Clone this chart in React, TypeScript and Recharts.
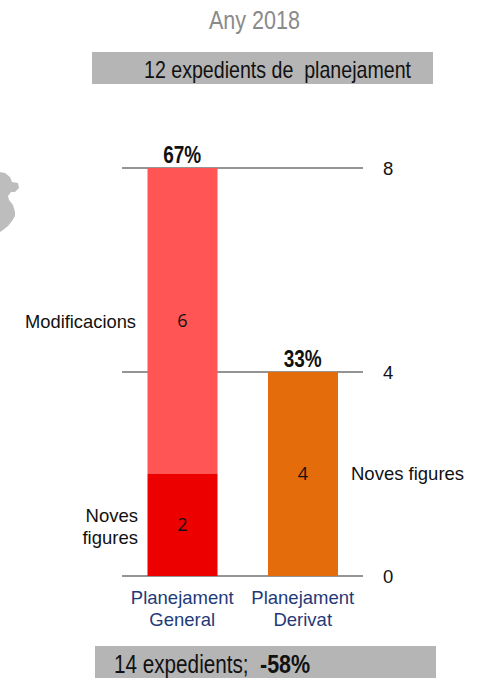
import React from "react";
import { ComposedChart, Bar, Line, XAxis, YAxis, CartesianGrid, Cell, LabelList } from "recharts";

const categories = ["Planejament General", "Planejament Derivat"];
const novesFigures = [2, 4];
const modificacions: (number | null)[] = [6, null];
const totals = [8, 4];
const percentatges = ["67%", "33%"];
const novesColors = ["#ec0000", "#e56c0a"];
const yTicks = [0, 4, 8];

const data = categories.map((name, i) => ({
  name,
  noves: novesFigures[i],
  mods: modificacions[i],
  total: totals[i],
  pct: percentatges[i],
}));

const SANS = "'Liberation Sans', Arial, sans-serif";
const VALUE_FONT = "'Open Sans', sans-serif";

const XTick = (props: any) => {
  const { x, y, payload } = props;
  const words = String(payload.value).split(" ");
  return (
    <g>
      {words.map((w, i) => (
        <text key={w} x={x} y={y + 20 + i * 22} textAnchor="middle" fontFamily={SANS} fontSize={18.5} fill="#1f3a78">
          {w}
        </text>
      ))}
    </g>
  );
};

const PctLabel = (props: any) => {
  const { x, y, value } = props;
  return (
    <text x={x} y={y - 5} textAnchor="middle" fontFamily={SANS} fontSize={23} fontWeight={700} fill="#111"
      textLength={38} lengthAdjust="spacingAndGlyphs">
      {value}
    </text>
  );
};

const T = ({ x, y, w, size, fill = "#111", anchor = "start", weight, children }: any) => (
  <text x={x} y={y} fontFamily={SANS} fontSize={size} fontWeight={weight} fill={fill} textAnchor={anchor} textLength={w} lengthAdjust="spacingAndGlyphs" xmlSpace="preserve">
    {children}
  </text>
);

const Squeezed = ({ x, y, sx, size, weight, children }: any) => (
  <text transform={`translate(${x} ${y}) scale(${sx} 1)`} fontFamily={SANS} fontSize={size} fontWeight={weight} fill="#111">
    {children}
  </text>
);

export default function App() {
  return (
    <div style={{ position: "absolute", left: 0, top: 0, width: 480, height: 678, overflow: "hidden", background: "#fff" }}>
      <div style={{ position: "absolute", left: 0, top: 0 }}>
        <ComposedChart width={480} height={678} data={data} margin={{ top: 168, right: 0, bottom: 0, left: 122 }} barCategoryGap={25.5}>
          <CartesianGrid horizontal vertical={false} stroke="#949494" strokeWidth={2} />
          <XAxis dataKey="name" axisLine={false} tickLine={false} height={102} interval={0} tick={<XTick />} />
          <YAxis orientation="right" width={117} domain={[0, 8]} ticks={yTicks} axisLine={false} tickLine={false} tickMargin={14}
            tick={{ fontFamily: SANS, fontSize: 18.5, fill: "#111" }} />
          <Bar dataKey="noves" stackId="a" isAnimationActive={false}>
            {novesColors.map((c) => <Cell key={c} fill={c} />)}
            <LabelList dataKey="noves" position="center" fontFamily={VALUE_FONT} fontSize={18} fill="#111" />
          </Bar>
          <Bar dataKey="mods" stackId="a" fill="#ff5555" isAnimationActive={false}>
            <LabelList dataKey="mods" position="center" fontFamily={VALUE_FONT} fontSize={18} fill="#111" />
          </Bar>
          <Line dataKey="total" stroke="none" dot={false} activeDot={false} legendType="none" isAnimationActive={false}>
            <LabelList dataKey="pct" content={<PctLabel />} />
          </Line>
        </ComposedChart>
      </div>
      <svg width={480} height={678} style={{ position: "absolute", left: 0, top: 0 }}>
        <path d="M0 172 L5 173 L10 177 L12 182 L18 183 L19 188 L15 192 L11 192 L8 196 L9 200 L13 205 L15 212 L15 216 L12 221 L8 226 L3 230 L0 232 Z" fill="#bdbdbd" />
        <T x={209} y={29} w={91} size={25} fill="#8a8a8a">Any 2018</T>
        <rect x={92} y={52} width={341} height={32} fill="#b5b5b5" />
        <T x={144} y={78} w={267} size={24}>12 expedients de  planejament</T>
        <T x={25} y={328} w={111} size={18.5}>Modificacions</T>
        <T x={351} y={480} size={18.5}>Noves figures</T>
        <T x={138} y={522} size={18.5} anchor="end">Noves</T>
        <T x={138} y={544} size={18.5} anchor="end">figures</T>
        <rect x={95} y={646} width={341} height={32} fill="#b5b5b5" />
        <Squeezed x={114} y={673} sx={0.828} size={25}>14 expedients;</Squeezed>
        <Squeezed x={260} y={673} sx={0.86} size={25} weight={700}>-58%</Squeezed>
      </svg>
    </div>
  );
}
